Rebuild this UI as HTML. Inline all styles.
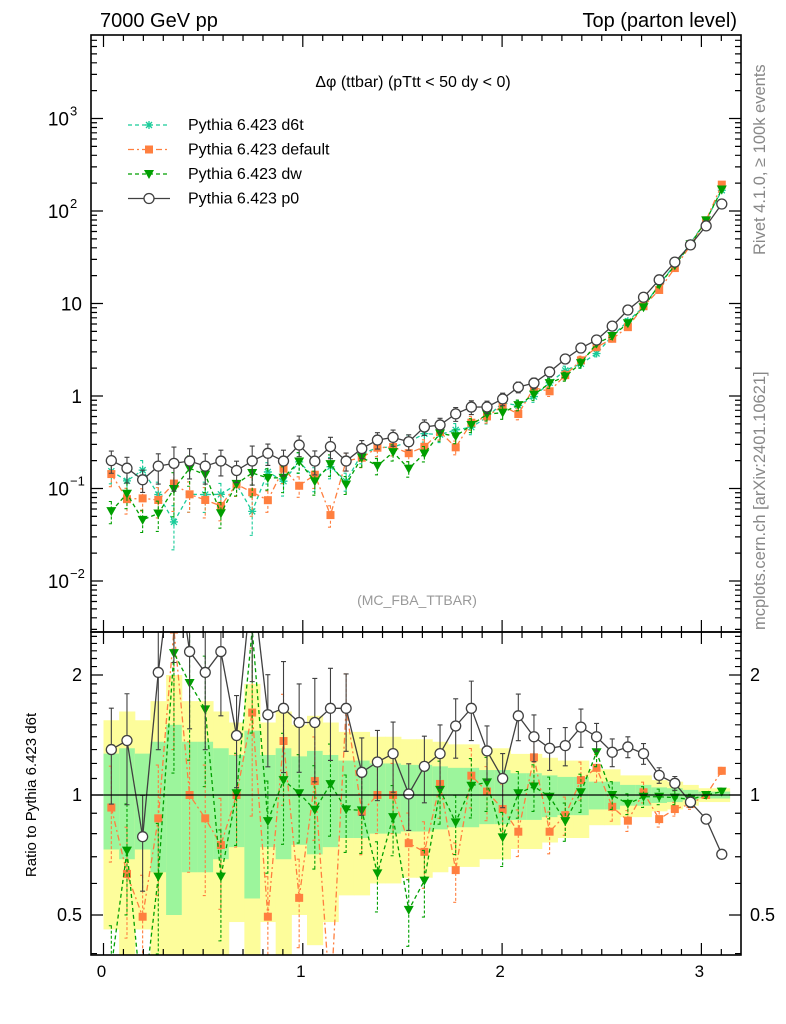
<!DOCTYPE html>
<html><head><meta charset="utf-8">
<style>
html,body{margin:0;padding:0;background:#fff;overflow:hidden;width:786px;height:1024px;}
svg{display:block;font-family:"Liberation Sans",sans-serif;}
</style></head>
<body>
<svg id="chart" width="786" height="1024" viewBox="0 0 786 1024">
<defs>
<clipPath id="clipMain"><rect x="91" y="35" width="650" height="597"/></clipPath>
<clipPath id="clipRatio"><rect x="91" y="632" width="650" height="323"/></clipPath>
</defs>
<g id="bands" clip-path="url(#clipRatio)"></g>
<g id="ratio" clip-path="url(#clipRatio)"></g>
<g id="main" clip-path="url(#clipMain)"></g>
<g id="axes"></g>
<text x="100" y="27" font-size="20">7000 GeV pp</text>
<text x="737" y="27" font-size="20" text-anchor="end">Top (parton level)</text>
<text x="413" y="87" font-size="16" text-anchor="middle">Δφ (ttbar) (pTtt &lt; 50 dy &lt; 0)</text>
<text x="417" y="605" font-size="14" fill="#999" text-anchor="middle">(MC_FBA_TTBAR)</text>
<text transform="translate(765,255) rotate(-90)" font-size="16.5" fill="#888">Rivet 4.1.0, ≥ 100k events</text>
<text transform="translate(765,630) rotate(-90)" font-size="16.5" fill="#888">mcplots.cern.ch [arXiv:2401.10621]</text>
<text transform="translate(36,795) rotate(-90)" font-size="15" text-anchor="middle">Ratio to Pythia 6.423 d6t</text>
<g id="legend"></g>
</svg>
<script>
const binWidth = Math.PI/40;
const d6t = [0.154,0.121,0.158,0.086,0.0435,0.0865,0.086,0.0865,0.111,0.0566,0.151,0.12,0.194,0.130,0.172,0.12,0.237,0.276,0.281,0.318,0.392,0.383,0.43,0.46,0.59,0.845,0.79,0.986,1.39,1.89,2.23,2.88,4.45,6.44,9.2,16.1,26.2,44.8,79.3,167.6];
const ratioDefault = [0.93,0.634,0.495,0.874,2.6,1.0,0.874,0.749,1.0,1.61,0.495,1.366,0.552,1.084,0.3,1.65,0.908,1.0,1.0,0.757,0.72,1.066,0.648,1.118,1.02,0.922,0.809,1.243,0.809,0.89,1.09,1.17,0.934,0.862,1.016,0.87,0.922,0.949,1.0,1.15];
const ratioDw = [0.37,0.725,0.29,0.624,2.27,1.91,1.64,0.624,1.01,2.6,0.86,1.09,1.01,0.918,1.065,0.92,0.915,0.636,0.88,0.515,0.61,1.03,0.854,1.055,1.076,0.783,1.01,1.05,0.99,0.86,1.016,1.28,1.0,0.95,0.99,0.99,0.985,0.975,1.0,1.02];
const ratioP0 = [1.30,1.37,0.786,2.03,4.3,2.29,2.03,2.29,1.41,3.5,1.59,1.65,1.52,1.52,1.65,1.65,1.14,1.21,1.27,1.006,1.18,1.27,1.49,1.65,1.29,1.10,1.58,1.40,1.31,1.33,1.48,1.40,1.28,1.32,1.27,1.12,1.07,0.96,0.87,0.71];
const relErr = [0.27,0.31,0.27,0.36,0.5,0.36,0.36,0.31,0.26,0.45,0.26,0.31,0.25,0.29,0.26,0.22,0.22,0.2,0.2,0.19,0.19,0.18,0.17,0.17,0.155,0.155,0.134,0.134,0.12,0.11,0.11,0.08,0.08,0.06,0.06,0.045,0.04,0.03,0.02,0.02];
const xTicks = [0,1,2,3];
const mainTickLabels = [["10","3"],["10","2"],["10",""],["1",""],["10","−1"],["10","−2"]];
const mainTickExps = [3,2,1,0,-1,-2];
const ratioTicks = [2,1,0.5];
const ratioTickLabels = ["2","1","0.5"];

const NS="http://www.w3.org/2000/svg";
const X=v=>103.5+v*199.3;
const Ym=v=>396-92.5*Math.log10(v);
const Yr=v=>795-398.6*Math.log10(v);
function mk(tag,attrs,parent){const e=document.createElementNS(NS,tag);for(const k in attrs)e.setAttribute(k,attrs[k]);parent.appendChild(e);return e;}
const gMain=document.getElementById('main'),gRatio=document.getElementById('ratio'),gBands=document.getElementById('bands'),gAxes=document.getElementById('axes'),gLeg=document.getElementById('legend');

d6t.forEach((v,i)=>{
  const x0=X(i*binWidth),x1=X((i+1)*binWidth);
  const e=relErr[i];
  let r=mk('rect',{x:x0,y:Yr(1+2*e),width:x1-x0+0.5,height:Yr(Math.max(1-2*e,0.01))-Yr(1+2*e),fill:'#fdfd9b'},gBands);
  
  
  let g=mk('rect',{x:x0,y:Yr(1+e),width:x1-x0+0.5,height:Yr(1-e)-Yr(1+e),fill:'#9cf59c'},gBands);
  
  
});

const series=[
 {name:'d6t',label:'Pythia 6.423 d6t',color:'#19cc99',dash:'4,3',marker:'star',ratio:d6t.map(()=>1)},
 {name:'default',label:'Pythia 6.423 default',color:'#ff7f3f',dash:'6,3,2,3',marker:'square',ratio:ratioDefault},
 {name:'dw',label:'Pythia 6.423 dw',color:'#009f00',dash:'4,3',marker:'tri',ratio:ratioDw},
 {name:'p0',label:'Pythia 6.423 p0',color:'#404040',dash:'',marker:'circle',ratio:ratioP0}
];
function marker(type,x,y,color,parent){
  let m;
  if(type==='circle') m=mk('circle',{cx:x,cy:y,r:5,fill:'#fff',stroke:color,'stroke-width':1.3},parent);
  else if(type==='square') m=mk('rect',{x:x-4,y:y-4,width:8,height:8,fill:color},parent);
  else if(type==='tri') m=mk('path',{d:`M${x-5},${y-4}L${x+5},${y-4}L${x},${y+5}Z`,fill:color},parent);
  else m=mk('path',{d:`M${x-4},${y}H${x+4}M${x},${y-4}V${y+4}M${x-3},${y-3}L${x+3},${y+3}M${x-3},${y+3}L${x+3},${y-3}`,stroke:color,'stroke-width':1.3},parent);
  return m;
}
function drawSeries(s,vals,Yf,parent,panel){
  const g=mk('g',{},parent);
  
  
  const pts=vals.map((v,i)=>[X((i+0.5)*binWidth),Yf(v)]);
  const l=mk('polyline',{points:pts.map(p=>p.join(',')).join(' '),fill:'none',stroke:s.color,'stroke-width':1.3,'stroke-dasharray':s.dash},g);
  
  
  vals.forEach((v,i)=>{
    const x=pts[i][0],e=relErr[i];
    const up=Yf(v*(1+e)),dn=Yf(Math.max(v*(1-e),1e-4));
    const b=mk('path',{d:`M${x},${up}V${dn}M${x-2.5},${up}H${x+2.5}M${x-2.5},${dn}H${x+2.5}`,stroke:s.color,'stroke-width':1.1,'stroke-dasharray':s.dash?'3,2':''},g);
    
    
    const m=marker(s.marker,x,pts[i][1],s.color,g);
    
    
  });
}
series.forEach(s=>{
  if(s.name!=='d6t') drawSeries(s,s.ratio,Yr,gRatio,'ratio');
  drawSeries(s,d6t.map((v,i)=>v*s.ratio[i]),Ym,gMain,'main');
});
let one=mk('line',{x1:91,x2:741,y1:Yr(1),y2:Yr(1),stroke:'#000','stroke-width':1.2},gRatio);



[[35,632],[632,955]].forEach(([t,b])=>{
  const f=mk('rect',{x:91,y:t,width:650,height:b-t,fill:'none',stroke:'#000','stroke-width':1.6},gAxes);
  
  
  for(let k=0;k<=32;k++){
    const v=k/10,x=X(v);if(x>741)break;
    const L=(k%10===0)?12:6;
    mk('path',{d:`M${x},${t}v${L}M${x},${b}v${-L}`,stroke:'#000','stroke-width':1.2},gAxes);
  }
});
xTicks.forEach(v=>{
  const t=mk('text',{x:X(v)-2,y:977,'font-size':17,'text-anchor':'middle'},gAxes);
  t.textContent=String(v);
  
  
});
for(let d=-3;d<=3;d++){
  for(let m=1;m<10;m++){
    const y=Ym(m*Math.pow(10,d));if(y<35||y>632)continue;
    const L=m===1?12:6;
    mk('path',{d:`M91,${y}h${L}M741,${y}h${-L}`,stroke:'#000','stroke-width':1.2},gAxes);
  }
}
mainTickExps.forEach((e,i)=>{
  const y=Ym(Math.pow(10,e));
  const [base,ex]=mainTickLabels[i];
  const t=mk('text',{x:ex?69:82,y:y+7,'font-size':19,'text-anchor':'end'},gAxes);
  t.textContent=base;
  
  
  if(ex){const s=mk('text',{x:70,y:y-3,'font-size':13},gAxes);s.textContent=ex;
    
    }
});
[0.4,0.5,0.6,0.7,0.8,0.9,1,1.1,1.2,1.3,1.4,1.5,1.6,1.7,1.8,1.9,2,2.1,2.2,2.3,2.4,2.5].forEach(v=>{
  const y=Yr(v);const L=(v===0.5||v===1||v===2)?12:6;
  mk('path',{d:`M91,${y}h${L}M741,${y}h${-L}`,stroke:'#000','stroke-width':1.2},gAxes);
});
ratioTicks.forEach((v,i)=>{
  const y=Yr(v)+6;
  const a=mk('text',{x:82,y:y,'font-size':18,'text-anchor':'end'},gAxes);a.textContent=ratioTickLabels[i];
  
  
  const b=mk('text',{x:750,y:y,'font-size':18},gAxes);b.textContent=ratioTickLabels[i];
  
  
});
series.forEach((s,i)=>{
  const y=125+i*24.5;
  const g=mk('g',{},gLeg);
  
  
  mk('line',{x1:128,x2:170,y1:y,y2:y,stroke:s.color,'stroke-width':1.3,'stroke-dasharray':s.dash},g);
  marker(s.marker,149,y,s.color,g);
  const t=mk('text',{x:188,y:y+5,'font-size':16},g);t.textContent=s.label;
});
</script>
</body></html>
